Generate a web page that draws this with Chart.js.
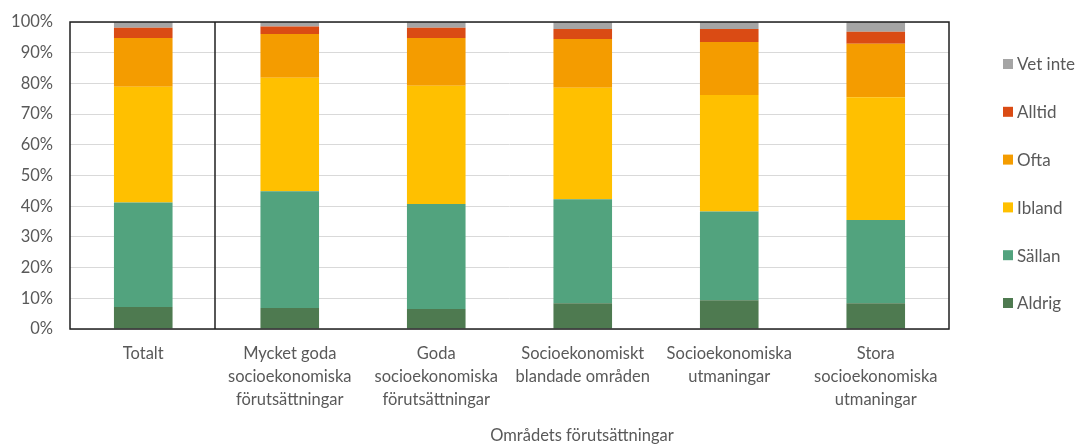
<!DOCTYPE html>
<html lang="sv">
<head>
<meta charset="UTF-8">
<title>Områdets förutsättningar</title>
<style>
  html, body { margin: 0; padding: 0; background: #fff; }
  #wrap { width: 1078px; height: 444px; }
</style>
</head>
<body>
<div id="wrap"><canvas id="chart" width="1078" height="444"></canvas></div>
<script src="https://cdn.jsdelivr.net/npm/chart.js"></script>
<script>
// categories (multi-line labels) and shares in percent
const categories = [
  ['Totalt'],
  ['Mycket goda', 'socioekonomiska', 'förutsättningar'],
  ['Goda', 'socioekonomiska', 'förutsättningar'],
  ['Socioekonomiskt', 'blandade områden'],
  ['Socioekonomiska', 'utmaningar'],
  ['Stora', 'socioekonomiska', 'utmaningar']
];
const aldrig  = [7.2, 6.8, 6.5, 8.4, 9.4, 8.4];
const sallan  = [34.0, 38.1, 34.2, 33.9, 28.9, 27.1];
const ibland  = [37.7, 36.9, 38.5, 36.3, 37.9, 40.0];
const ofta    = [15.9, 14.3, 15.6, 15.9, 17.3, 17.4];
const alltid  = [3.3, 2.4, 3.3, 3.2, 4.2, 3.9];
const vetInte = [1.9, 1.5, 1.9, 2.3, 2.3, 3.2];
const xTitle = 'Områdets förutsättningar';

const FONT = 'Lato, "Open Sans", sans-serif';
const TEXT = '#595959';

// border round the plot area + the line that sets Totalt apart
const frame = {
  id: 'frame',
  afterDatasetsDraw(chart) {
    const { ctx, chartArea: a, scales: { x } } = chart;
    ctx.save();
    ctx.strokeStyle = '#1f1f1f';
    ctx.lineWidth = 1.5;
    ctx.strokeRect(a.left, a.top, a.right - a.left, a.bottom - a.top);
    const sx = Math.round((x.getPixelForTick(0) + x.getPixelForTick(1)) / 2) - 2;
    ctx.beginPath();
    ctx.moveTo(sx, a.top);
    ctx.lineTo(sx, a.bottom);
    ctx.stroke();
    ctx.restore();
  }
};

// legend on the right, last series on top, and the axis title
const sideLegend = {
  id: 'sideLegend',
  afterDraw(chart) {
    const { ctx } = chart;
    const sets = chart.data.datasets.slice().reverse();
    ctx.save();
    ctx.font = '17px ' + FONT;
    ctx.textBaseline = 'middle';
    ctx.textAlign = 'left';
    sets.forEach((ds, i) => {
      const y = 64 + i * 47.8;
      ctx.fillStyle = ds.backgroundColor;
      ctx.fillRect(1003, y - 5, 10, 10);
      ctx.fillStyle = TEXT;
      ctx.fillText(ds.label, 1017, y + 1);
    });
    ctx.font = '16.5px ' + FONT;
    ctx.textAlign = 'center';
    ctx.fillText(xTitle, 582, 436);
    ctx.restore();
  }
};

const ds = (label, data, color) => ({ label, data, backgroundColor: color, borderWidth: 0 });

new Chart(document.getElementById('chart'), {
  type: 'bar',
  data: {
    labels: categories,
    datasets: [
      ds('Aldrig', aldrig, '#4e7a50'),
      ds('Sällan', sallan, '#52a37e'),
      ds('Ibland', ibland, '#ffc000'),
      ds('Ofta', ofta, '#f49c00'),
      ds('Alltid', alltid, '#da4b14'),
      ds('Vet inte', vetInte, '#a5a5a5')
    ]
  },
  options: {
    responsive: false,
    animation: false,
    layout: { padding: { top: 22, right: 129, left: 0, bottom: 0 } },
    datasets: { bar: { barPercentage: 0.4, categoryPercentage: 1 } },
    plugins: {
      legend: { display: false },
      tooltip: { enabled: false }
    },
    scales: {
      x: {
        stacked: true,
        afterFit: s => { s.height = 115; },
        grid: { display: false, drawTicks: false },
        border: { display: false },
        ticks: {
          color: TEXT,
          font: { family: FONT, size: 16.5, lineHeight: 1.4 },
          padding: 13,
          maxRotation: 0,
          autoSkip: false
        }
      },
      y: {
        stacked: true,
        min: 0,
        max: 100,
        // fixed width; tick padding should not push the plot top down
        afterFit: s => { s.width = 70; s.paddingTop = 0; s.paddingBottom = 0; },
        grid: { color: '#d9d9d9', lineWidth: 1, drawTicks: false },
        border: { display: false },
        ticks: {
          stepSize: 10,
          color: TEXT,
          font: { family: FONT, size: 16.5 },
          padding: 17,
          callback: v => v + '%'
        }
      }
    }
  },
  plugins: [frame, sideLegend]
});
</script>
</body>
</html>
